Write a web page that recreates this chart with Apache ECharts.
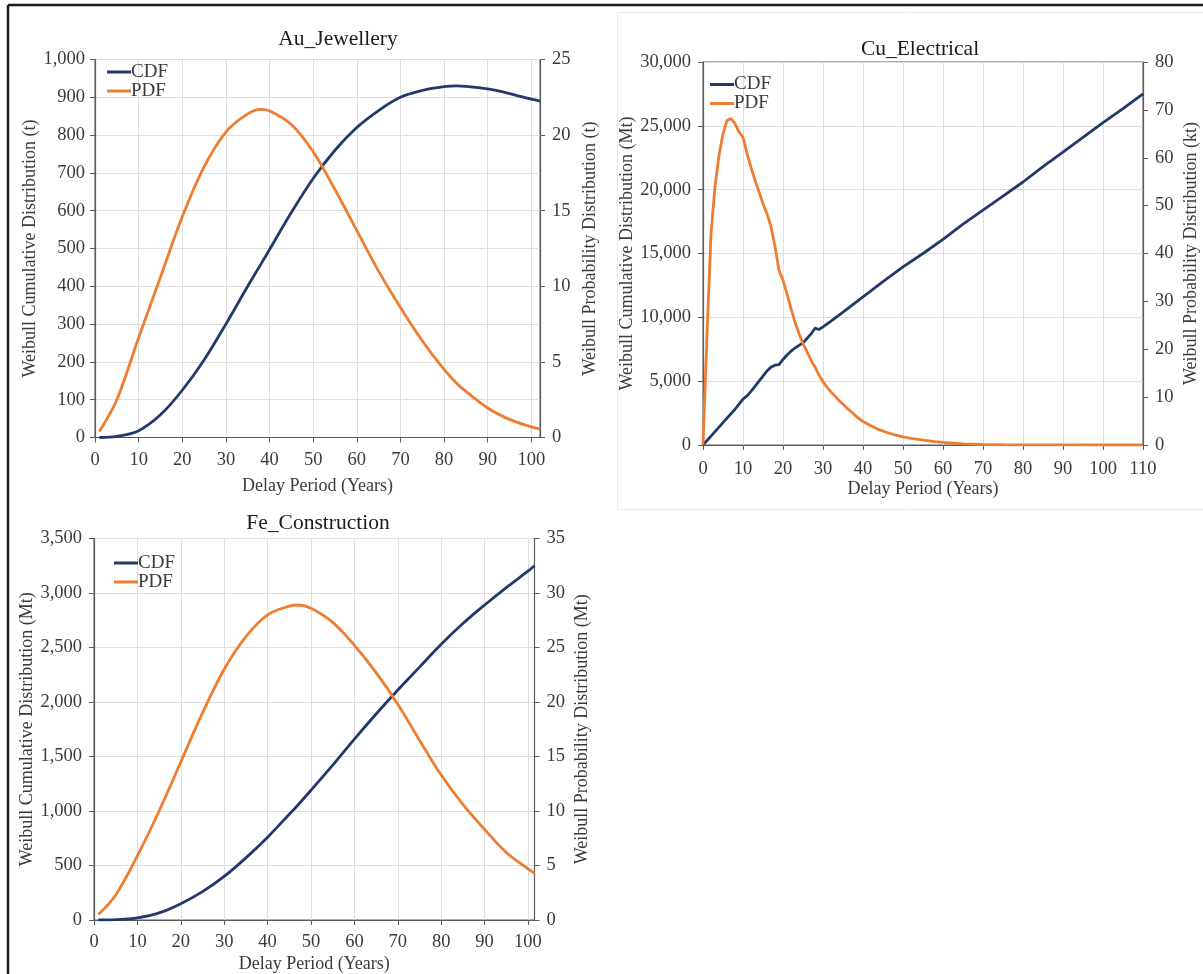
<!DOCTYPE html>
<html>
<head>
<meta charset="utf-8">
<script src="https://cdn.jsdelivr.net/npm/echarts@6/dist/echarts.min.js"></script>
<style>
  html, body { margin: 0; padding: 0; background: #fff; }
  #chart { width: 1203px; height: 974px; }
</style>
</head>
<body>
<div id="chart"></div>
<script>
// Au_Jewellery: delay period (years) vs Weibull CDF (t) and PDF (t)
const auYears = [1, 5, 10, 15, 20, 25, 30, 35, 38, 40, 45, 50, 55, 60, 65, 70, 75, 80, 83, 85, 90, 95, 100, 102];
const auCdf = [0, 3, 18, 60, 125, 205, 300, 400, 458, 497, 595, 685, 760, 820, 865, 900, 918, 928, 930, 929, 922, 910, 895, 890];
const auPdf = [0.4, 2.5, 6.6, 10.6, 14.6, 17.9, 20.2, 21.4, 21.7, 21.6, 20.7, 18.9, 16.4, 13.7, 11.0, 8.6, 6.4, 4.5, 3.55, 3.05, 1.95, 1.2, 0.7, 0.55];

// Cu_Electrical: CDF (Mt) and PDF (kt)
const cuCdfYears = [0, 1, 2, 3, 4, 5, 6, 7, 8, 9, 10, 11, 12, 13, 14, 15, 16, 17, 18, 19, 20, 21, 22, 23, 24, 25, 26, 27, 28, 29, 30,
  32, 35, 40, 45, 50, 55, 60, 65, 70, 75, 80, 85, 90, 95, 100, 105, 110];
const cuCdf = [0, 350, 700, 1050, 1400, 1750, 2100, 2450, 2800, 3200, 3600, 3850, 4200, 4600, 5000, 5400, 5800, 6100, 6250, 6300,
  6700, 7050, 7350, 7600, 7800, 8000, 8350, 8700, 9150, 9050, 9250,
  9700, 10400, 11600, 12800, 13950, 15000, 16100, 17300, 18400, 19500, 20600, 21800, 22950, 24100, 25250, 26350, 27500];
const cuPdfYears = [0, 1, 2, 3, 4, 5, 6, 7, 8, 9, 10, 11, 12, 13, 14, 15, 16, 17, 18, 19, 20, 21, 22, 23, 24, 25, 26, 27, 28, 29, 30,
  31, 32, 33, 34, 35, 36, 37, 38, 39, 40, 42, 44, 46, 48, 50, 52, 55, 58, 60, 65, 70, 75, 80, 90, 100, 110];
const cuPdf = [0, 23, 44, 54, 60.5, 65, 67.8, 68.2, 67.1, 65.4, 64.3, 60.9, 58, 55.3, 52.9, 50.4, 48.3, 45.6, 41.4, 36.5,
  34.4, 31.6, 28.5, 25.7, 23.3, 21.2, 19.5, 17.7, 16.3, 14.6, 13.2,
  12.1, 11.1, 10.2, 9.3, 8.5, 7.7, 7.0, 6.2, 5.5, 4.9, 4.0, 3.2, 2.6, 2.1, 1.7, 1.4, 1.0, 0.7, 0.55, 0.25, 0.1, 0.05, 0.03, 0.01, 0, 0];

// Fe_Construction: CDF (Mt) and PDF (Mt)
const feYears = [1, 5, 10, 15, 20, 25, 30, 35, 40, 45, 47, 50, 55, 60, 65, 70, 75, 80, 85, 90, 95, 100, 101.5];
const feCdf = [0, 3, 20, 65, 150, 260, 400, 570, 760, 970, 1055, 1190, 1420, 1660, 1890, 2110, 2320, 2530, 2720, 2890, 3050, 3200, 3250];
const fePdf = [0.5, 2.3, 5.9, 10.0, 14.5, 19.0, 23.0, 26.0, 28.0, 28.8, 28.9, 28.6, 27.3, 25.2, 22.7, 19.8, 16.5, 13.3, 10.6, 8.3, 6.2, 4.7, 4.3];

const titles = ['Au_Jewellery', 'Cu_Electrical', 'Fe_Construction'];
const cdfNames = ['Weibull Cumulative Distribution (t)', 'Weibull Cumulative Distribution (Mt)', 'Weibull Cumulative Distribution (Mt)'];
const pdfNames = ['Weibull Probability Distribution (t)', 'Weibull Probability Distribution (kt)', 'Weibull Probability Distribution (Mt)'];
const xName = 'Delay Period (Years)';
const legendNames = ['CDF', 'PDF'];

const FONT = '"Liberation Serif", "Times New Roman", serif';
const TEXT = '#3a3a3a';
const AXIS = '#595959';
const GRID = '#dedede';
const CDF_COLOR = '#22396b';
const PDF_COLOR = '#ed7d31';
const TICK_SIZE = 18.5;
const NAME_SIZE = 18;

// panel geometry (pixels)
const panels = [
  { grid: { left: 95, top: 59.5, width: 445, height: 378 }, xMax: 102, yMax: 1000, yInt: 100, rMax: 25, rInt: 5,
    title: { x: 338, y: 28 }, legend: { x: 107, y: 62.5 }, xNameGap: 40, xLabelMargin: 13, yLabelMargin: 10, lGap: 56, rGap: 41 },
  { grid: { left: 703, top: 62, width: 440, height: 383 }, xMax: 110, yMax: 30000, yInt: 5000, rMax: 80, rInt: 10,
    title: { x: 920, y: 38 }, legend: { x: 710, y: 75 }, xNameGap: 27, xLabelMargin: 15, yLabelMargin: 12, lGap: 61, rGap: 39 },
  { grid: { left: 94, top: 538.5, width: 440.5, height: 382 }, xMax: 101.5, yMax: 3500, yInt: 500, rMax: 35, rInt: 5,
    title: { x: 318, y: 512 }, legend: { x: 114, y: 553.5 }, xNameGap: 35, xLabelMargin: 13, yLabelMargin: 12, lGap: 57, rGap: 39 }
];

const seriesData = [
  [auYears, auCdf, auYears, auPdf],
  [cuCdfYears, cuCdf, cuPdfYears, cuPdf],
  [feYears, feCdf, feYears, fePdf]
];

function pairs(xs, ys) { return xs.map((x, i) => [x, ys[i]]); }
const fmt = v => v.toLocaleString('en-US');

const option = {
  backgroundColor: '#fff',
  animation: false,
  textStyle: { fontFamily: FONT },
  title: panels.map((p, i) => ({
    text: titles[i], left: p.title.x, top: p.title.y, textAlign: 'center', padding: 0,
    textStyle: { fontFamily: FONT, fontSize: 21.5, fontWeight: 'normal', color: '#1a1a1a' }
  })),
  legend: panels.map(p => ({
    data: legendNames, orient: 'vertical', left: p.legend.x, top: p.legend.y, padding: 0,
    icon: 'rect', itemWidth: 24, itemHeight: 3, itemGap: 0,
    textStyle: { fontFamily: FONT, fontSize: 19, lineHeight: 19, color: TEXT, padding: [0, 0, 0, -5] },
    selectedMode: false
  })),
  grid: panels.map(p => Object.assign({ show: true, borderColor: AXIS, borderWidth: 1, backgroundColor: 'transparent' }, p.grid)),
  xAxis: panels.map((p, i) => ({
    type: 'value', gridIndex: i, min: 0, max: p.xMax, interval: 10,
    name: xName, nameLocation: 'middle', nameGap: p.xNameGap,
    nameTextStyle: { fontFamily: FONT, fontSize: NAME_SIZE, color: TEXT },
    axisLine: { show: true, onZero: false, lineStyle: { color: AXIS, width: 1.2 } },
    axisTick: { show: true, inside: false, length: 5, lineStyle: { color: AXIS } },
    axisLabel: { fontFamily: FONT, fontSize: TICK_SIZE, color: TEXT, margin: p.xLabelMargin, showMaxLabel: p.xMax % 10 === 0 },
    splitLine: { show: true, lineStyle: { color: GRID, width: 1 } }
  })),
  yAxis: panels.flatMap((p, i) => ([
    {
      type: 'value', gridIndex: i, position: 'left', min: 0, max: p.yMax, interval: p.yInt,
      name: cdfNames[i], nameLocation: 'middle', nameGap: p.lGap, nameRotate: 90,
      nameTextStyle: { fontFamily: FONT, fontSize: NAME_SIZE, color: TEXT },
      axisLine: { show: true, lineStyle: { color: AXIS, width: 1.2 } },
      axisTick: { show: true, inside: false, length: 5, lineStyle: { color: AXIS } },
      axisLabel: { fontFamily: FONT, fontSize: TICK_SIZE, color: TEXT, margin: p.yLabelMargin, formatter: fmt },
      splitLine: { show: true, lineStyle: { color: GRID, width: 1 } }
    },
    {
      type: 'value', gridIndex: i, position: 'right', min: 0, max: p.rMax, interval: p.rInt,
      name: pdfNames[i], nameLocation: 'middle', nameGap: p.rGap, nameRotate: 90,
      nameTextStyle: { fontFamily: FONT, fontSize: NAME_SIZE, color: TEXT },
      axisLine: { show: true, lineStyle: { color: AXIS, width: 1.2 } },
      axisTick: { show: true, inside: false, length: 5, lineStyle: { color: AXIS } },
      axisLabel: { fontFamily: FONT, fontSize: TICK_SIZE, color: TEXT, margin: 12 },
      splitLine: { show: false }
    }
  ])),
  series: seriesData.flatMap(([cx, cdf, px, pdf], i) => ([
    {
      name: 'CDF', type: 'line', xAxisIndex: i, yAxisIndex: 2 * i,
      data: pairs(cx, cdf), showSymbol: false, symbol: 'none',
      smooth: i === 1 ? false : 0.35,
      lineStyle: { color: CDF_COLOR, width: 2.8 }, itemStyle: { color: CDF_COLOR }, z: 3
    },
    {
      name: 'PDF', type: 'line', xAxisIndex: i, yAxisIndex: 2 * i + 1,
      data: pairs(px, pdf), showSymbol: false, symbol: 'none',
      smooth: i === 1 ? false : 0.35,
      lineStyle: { color: PDF_COLOR, width: 2.8 }, itemStyle: { color: PDF_COLOR }, z: 3
    }
  ])),
  graphic: [
    // outer frame of the figure
    { type: 'line', shape: { x1: 8, y1: 5, x2: 1203, y2: 5 }, style: { stroke: '#1a1a1a', lineWidth: 2.5 }, silent: true },
    { type: 'line', shape: { x1: 8, y1: 5, x2: 8, y2: 974 }, style: { stroke: '#1a1a1a', lineWidth: 2.5 }, silent: true },
    // faint chart-area box around the copper panel
    { type: 'rect', shape: { x: 617.5, y: 12.5, width: 620, height: 497 }, style: { fill: 'none', stroke: '#ececec', lineWidth: 1 }, silent: true, z: -1 }
  ]
};

const chart = echarts.init(document.getElementById('chart'), null, { renderer: 'canvas' });
chart.setOption(option);
</script>
</body>
</html>
